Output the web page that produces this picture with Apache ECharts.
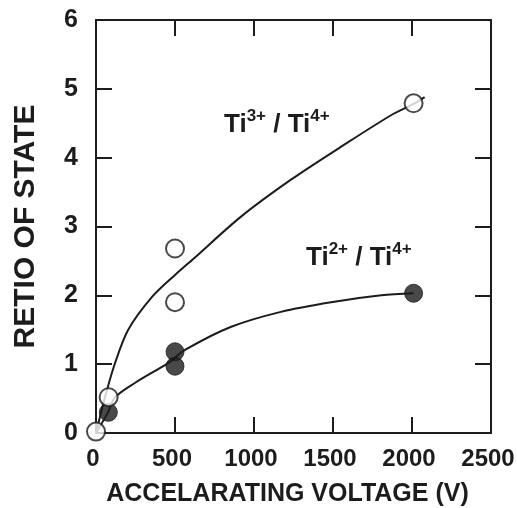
<!DOCTYPE html>
<html>
<head>
<meta charset="utf-8">
<script src="https://cdn.jsdelivr.net/npm/echarts@6/dist/echarts.min.js"></script>
<style>
  html, body { margin: 0; padding: 0; background: #fff; }
  #chart { width: 517px; height: 508px; }
</style>
</head>
<body>
<div id="chart"></div>
<script>
// measured points (voltage V, ratio)
const ti3Points = [[0, 0.02], [80, 0.52], [500, 2.68], [500, 1.9], [2010, 4.79]]
const ti2Points = [[78, 0.3], [500, 1.18], [500, 0.97], [2010, 2.03]]

// hand-drawn fit curves
const ti3Curve = [
  [0, 0], [57, 0.52], [121, 1.02], [204, 1.5], [356, 1.98], [502, 2.3],
  [621, 2.54], [916, 3.14], [1234, 3.68], [1552, 4.16], [1870, 4.62],
  [2010, 4.78], [2080, 4.88],
]
const ti2Curve = [
  [0, 0], [76, 0.3], [121, 0.52], [248, 0.73], [458, 1.02], [566, 1.21],
  [852, 1.54], [1170, 1.76], [1488, 1.9], [1806, 2.0], [2010, 2.03],
]

const xTicks = [0, 500, 1000, 1500, 2000, 2500]
const yTicks = [0, 1, 2, 3, 4, 5, 6]

const INK = '#1c1c1c'
const FONT = 'Liberation Sans'

const chart = echarts.init(document.getElementById('chart'))

const axisLine = { show: true, onZero: false, lineStyle: { color: INK, width: 2 } }
const axisTick = { show: true, inside: true, length: 16, lineStyle: { color: INK, width: 2 } }

const tickLabel = {
  color: INK, fontFamily: FONT, fontWeight: 'bold', fontSize: 25,
  formatter: (v) => String(v),
}

const richLabel = {
  b: { fontFamily: FONT, fontWeight: 'bold', fontSize: 26, fill: INK, verticalAlign: 'bottom', lineHeight: 30 },
  s: { fontFamily: FONT, fontWeight: 'bold', fontSize: 17, fill: INK, verticalAlign: 'top', lineHeight: 30 },
}

chart.setOption({
  animation: false,
  backgroundColor: '#fff',
  grid: { left: 96, right: 26, top: 20, bottom: 75, outerBoundsMode: 'none', containLabel: false },
  xAxis: [
    {
      type: 'value', min: xTicks[0], max: xTicks[xTicks.length - 1], interval: 500,
      position: 'bottom',
      axisLine, axisTick, splitLine: { show: false },
      axisLabel: { ...tickLabel, fontSize: 24, margin: 14, padding: [0, 6, 0, 0] },
      name: 'ACCELARATING VOLTAGE (V)',
      nameLocation: 'middle', nameGap: 49,
      nameTextStyle: { color: INK, fontFamily: FONT, fontWeight: 'bold', fontSize: 25, padding: [0, 12, 0, 0] },
    },
    {
      type: 'value', min: xTicks[0], max: xTicks[xTicks.length - 1], interval: 500,
      position: 'top',
      axisLine, axisTick, splitLine: { show: false },
      axisLabel: { show: false },
    },
  ],
  yAxis: [
    {
      type: 'value', min: yTicks[0], max: yTicks[yTicks.length - 1], interval: 1,
      position: 'left',
      axisLine, axisTick, splitLine: { show: false },
      axisLabel: { ...tickLabel, margin: 18 },
      name: 'RETIO OF STATE',
      nameLocation: 'middle', nameGap: 55,
      nameTextStyle: { color: INK, fontFamily: FONT, fontWeight: 'bold', fontSize: 30 },
    },
    {
      type: 'value', min: yTicks[0], max: yTicks[yTicks.length - 1], interval: 1,
      position: 'right',
      axisLine, axisTick, splitLine: { show: false },
      axisLabel: { show: false },
    },
  ],
  graphic: [
    {
      type: 'text', left: 224, top: 108,
      style: { text: '{b|Ti}{s|3+}{b| / Ti}{s|4+}', rich: richLabel },
    },
    {
      type: 'text', left: 306, top: 241,
      style: { text: '{b|Ti}{s|2+}{b| / Ti}{s|4+}', rich: richLabel },
    },
  ],
  series: [
    {
      name: 'Ti3+ fit', type: 'line', data: ti3Curve, smooth: 0.3,
      showSymbol: false, lineStyle: { color: INK, width: 2 }, z: 2,
    },
    {
      name: 'Ti2+ fit', type: 'line', data: ti2Curve, smooth: 0.3,
      showSymbol: false, lineStyle: { color: INK, width: 2 }, z: 2,
    },
    {
      name: 'Ti3+/Ti4+', type: 'scatter', data: ti3Points, symbol: 'circle', symbolSize: 18,
      itemStyle: { color: '#fff', borderColor: INK, borderWidth: 2 }, z: 4,
    },
    {
      name: 'Ti2+/Ti4+', type: 'scatter', data: ti2Points, symbol: 'circle', symbolSize: 18,
      itemStyle: { color: INK, borderColor: INK, borderWidth: 1 }, z: 3,
    },
  ],
})
</script>
</body>
</html>
